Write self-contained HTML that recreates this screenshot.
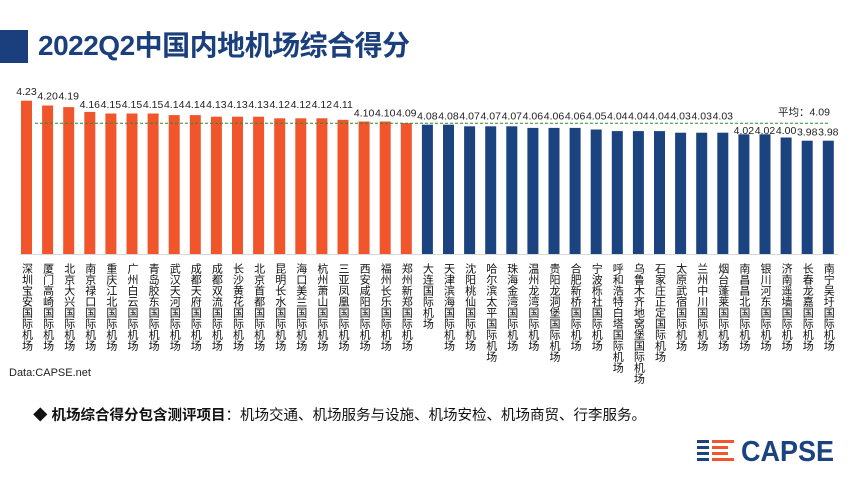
<!DOCTYPE html>
<html><head><meta charset="utf-8"><style>
body{margin:0;width:861px;height:484px;background:#fff;overflow:hidden;position:relative;font-family:"Liberation Sans","Noto Sans CJK SC",sans-serif}
.t{position:absolute;left:38px;top:28px;font-size:28px;font-weight:bold;color:#1b3f7c;line-height:36px;letter-spacing:-0.5px}
.sq{position:absolute;left:0;top:30px;width:28px;height:33px;background:#1b3f7c}
</style></head><body>
<div class="sq"></div>
<div class="t">2022Q2中国内地机场综合得分</div>
<svg width="861" height="484" style="position:absolute;left:0;top:0" font-family="Liberation Sans, Noto Sans CJK SC, sans-serif">
<line x1="20" y1="254.5" x2="838" y2="254.5" stroke="#d8d8d8" stroke-width="1"/>
<g fill="#f0552b">
<rect x="21" y="100.7" width="11" height="153.3"/>
<rect x="42.1" y="105.5" width="11" height="148.5"/>
<rect x="63.2" y="107.1" width="11" height="146.9"/>
<rect x="84.3" y="111.9" width="11" height="142.1"/>
<rect x="105.4" y="113.5" width="11" height="140.5"/>
<rect x="126.5" y="113.5" width="11" height="140.5"/>
<rect x="147.6" y="113.5" width="11" height="140.5"/>
<rect x="168.7" y="115.1" width="11" height="138.9"/>
<rect x="189.8" y="115.1" width="11" height="138.9"/>
<rect x="210.9" y="116.7" width="11" height="137.3"/>
<rect x="232" y="116.7" width="11" height="137.3"/>
<rect x="253.1" y="116.7" width="11" height="137.3"/>
<rect x="274.2" y="118.3" width="11" height="135.7"/>
<rect x="295.3" y="118.3" width="11" height="135.7"/>
<rect x="316.4" y="118.3" width="11" height="135.7"/>
<rect x="337.5" y="119.8" width="11" height="134.2"/>
<rect x="358.6" y="121.5" width="11" height="132.5"/>
<rect x="379.7" y="121.5" width="11" height="132.5"/>
<rect x="400.8" y="123.1" width="11" height="130.9"/>
</g>
<g fill="#1b437f">
<rect x="421.9" y="124.7" width="11" height="129.3"/>
<rect x="443" y="124.7" width="11" height="129.3"/>
<rect x="464.1" y="126.3" width="11" height="127.7"/>
<rect x="485.2" y="126.3" width="11" height="127.7"/>
<rect x="506.3" y="126.3" width="11" height="127.7"/>
<rect x="527.4" y="127.9" width="11" height="126.1"/>
<rect x="548.5" y="127.9" width="11" height="126.1"/>
<rect x="569.6" y="127.9" width="11" height="126.1"/>
<rect x="590.7" y="129.5" width="11" height="124.5"/>
<rect x="611.8" y="131.1" width="11" height="122.9"/>
<rect x="632.9" y="131.1" width="11" height="122.9"/>
<rect x="654" y="131.1" width="11" height="122.9"/>
<rect x="675.1" y="132.7" width="11" height="121.3"/>
<rect x="696.2" y="132.7" width="11" height="121.3"/>
<rect x="717.3" y="132.7" width="11" height="121.3"/>
<rect x="738.4" y="134.3" width="11" height="119.7"/>
<rect x="759.5" y="134.3" width="11" height="119.7"/>
<rect x="780.6" y="137.5" width="11" height="116.5"/>
<rect x="801.7" y="140.7" width="11" height="113.3"/>
<rect x="822.8" y="140.7" width="11" height="113.3"/>
</g>
<line x1="35" y1="123.3" x2="829" y2="123.3" stroke="#2e8b2e" stroke-width="1" stroke-dasharray="3,2"/>
<text x="778" y="115.5" font-size="10.5" fill="#222">平均：4.09</text>
<g font-size="10.5" fill="#222" text-anchor="middle">
<text x="26.5" y="95">4.23</text><text x="47.6" y="99.7">4.20</text><text x="68.7" y="99.7">4.19</text>
<text x="89.8" y="108">4.16</text><text x="110.9" y="108">4.15</text><text x="132" y="108">4.15</text><text x="153.1" y="108">4.15</text>
<text x="174.2" y="108">4.14</text><text x="195.3" y="108">4.14</text><text x="216.4" y="108">4.13</text><text x="237.5" y="108">4.13</text>
<text x="258.6" y="108">4.13</text><text x="279.7" y="108">4.12</text><text x="300.8" y="108">4.12</text><text x="321.9" y="108">4.12</text>
<text x="343" y="108">4.11</text><text x="364.1" y="116.3">4.10</text><text x="385.2" y="116.3">4.10</text><text x="406.3" y="116.3">4.09</text>
<text x="427.4" y="119.5">4.08</text><text x="448.5" y="119.5">4.08</text><text x="469.6" y="119.5">4.07</text><text x="490.7" y="119.5">4.07</text>
<text x="511.8" y="119.5">4.07</text><text x="532.9" y="119.5">4.06</text><text x="554" y="119.5">4.06</text><text x="575.1" y="119.5">4.06</text>
<text x="596.2" y="119.5">4.05</text><text x="617.3" y="119.5">4.04</text><text x="638.4" y="119.5">4.04</text><text x="659.5" y="119.5">4.04</text>
<text x="680.6" y="119.5">4.03</text><text x="701.7" y="119.5">4.03</text><text x="722.8" y="119.5">4.03</text>
<text x="743.9" y="134">4.02</text><text x="765" y="134">4.02</text><text x="786.1" y="134">4.00</text>
<text x="807.2" y="135.7">3.98</text><text x="828.3" y="135.7">3.98</text>
</g>
<g font-size="11" fill="#111" style="writing-mode:vertical-rl">
<text x="26.5" y="263">深圳宝安国际机场</text><text x="47.6" y="263">厦门高崎国际机场</text><text x="68.7" y="263">北京大兴国际机场</text>
<text x="89.8" y="263">南京禄口国际机场</text><text x="110.9" y="263">重庆江北国际机场</text><text x="132" y="263">广州白云国际机场</text>
<text x="153.1" y="263">青岛胶东国际机场</text><text x="174.2" y="263">武汉天河国际机场</text><text x="195.3" y="263">成都天府国际机场</text>
<text x="216.4" y="263">成都双流国际机场</text><text x="237.5" y="263">长沙黄花国际机场</text><text x="258.6" y="263">北京首都国际机场</text>
<text x="279.7" y="263">昆明长水国际机场</text><text x="300.8" y="263">海口美兰国际机场</text><text x="321.9" y="263">杭州萧山国际机场</text>
<text x="343" y="263">三亚凤凰国际机场</text><text x="364.1" y="263">西安咸阳国际机场</text><text x="385.2" y="263">福州长乐国际机场</text>
<text x="406.3" y="263">郑州新郑国际机场</text><text x="427.4" y="263">大连国际机场</text><text x="448.5" y="263">天津滨海国际机场</text>
<text x="469.6" y="263">沈阳桃仙国际机场</text><text x="490.7" y="263">哈尔滨太平国际机场</text><text x="511.8" y="263">珠海金湾国际机场</text>
<text x="532.9" y="263">温州龙湾国际机场</text><text x="554" y="263">贵阳龙洞堡国际机场</text><text x="575.1" y="263">合肥新桥国际机场</text>
<text x="596.2" y="263">宁波栎社国际机场</text><text x="617.3" y="263">呼和浩特白塔国际机场</text><text x="638.4" y="263">乌鲁木齐地窝堡国际机场</text>
<text x="659.5" y="263">石家庄正定国际机场</text><text x="680.6" y="263">太原武宿国际机场</text><text x="701.7" y="263">兰州中川国际机场</text>
<text x="722.8" y="263">烟台蓬莱国际机场</text><text x="743.9" y="263">南昌昌北国际机场</text><text x="765" y="263">银川河东国际机场</text>
<text x="786.1" y="263">济南遥墙国际机场</text><text x="807.2" y="263">长春龙嘉国际机场</text><text x="828.3" y="263">南宁吴圩国际机场</text>
</g>
<text x="9" y="376" font-size="11" fill="#222">Data:CAPSE.net</text>
<text x="33" y="420" font-size="14.5" fill="#111"><tspan font-weight="bold">◆ 机场综合得分包含测评项目</tspan>：机场交通、机场服务与设施、机场安检、机场商贸、行李服务。</text>
<g>
<rect x="697" y="440" width="12" height="3" fill="#1b437f"/><rect x="712" y="440" width="22" height="3" fill="#f0552b"/>
<rect x="697" y="446" width="12" height="3" fill="#1b437f"/><rect x="712" y="446" width="16" height="3" fill="#f0552b"/>
<rect x="697" y="452" width="12" height="3" fill="#1b437f"/><rect x="712" y="452" width="16" height="3" fill="#f0552b"/>
<rect x="697" y="458" width="12" height="3" fill="#1b437f"/><rect x="712" y="458" width="22" height="3" fill="#f0552b"/>
</g>
<text x="741" y="461" font-size="29" font-weight="bold" fill="#1b437f" textLength="93" lengthAdjust="spacingAndGlyphs">CAPSE</text>
</svg>
</body></html>
